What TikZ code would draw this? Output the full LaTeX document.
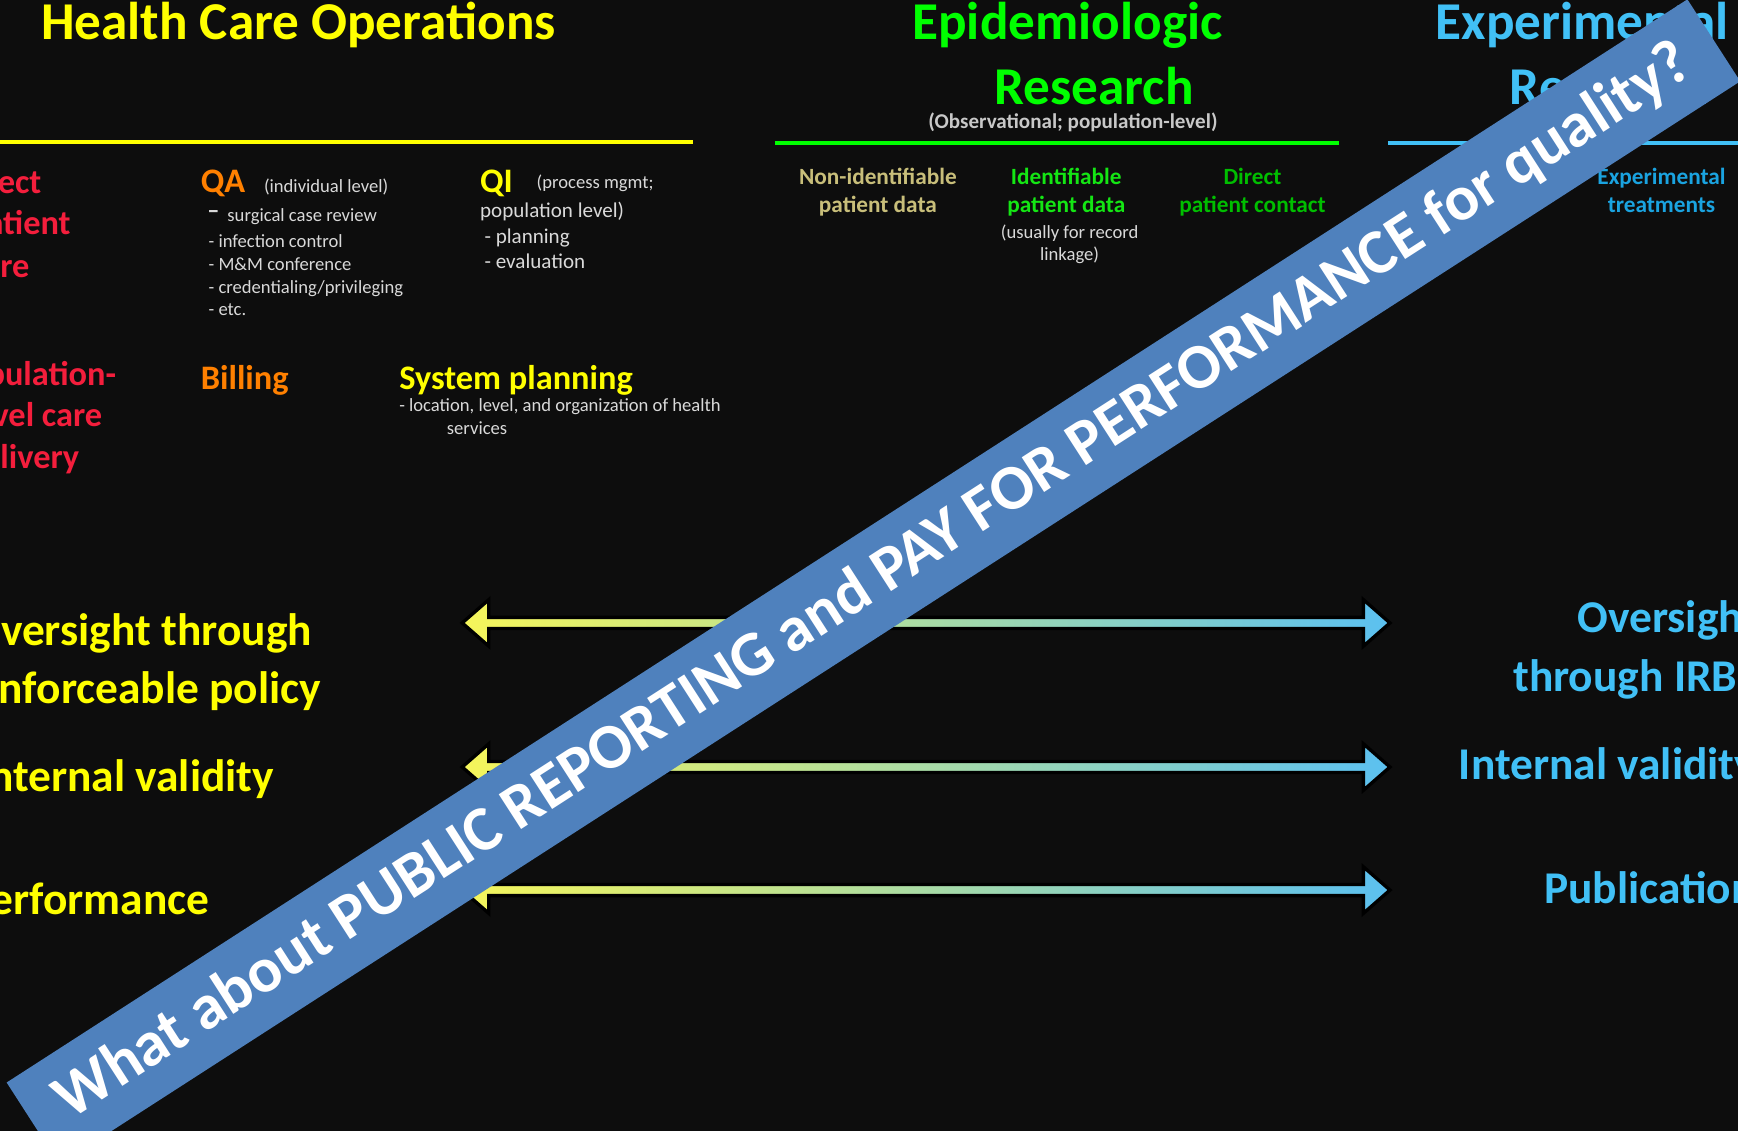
\documentclass[tikz,border=0pt]{standalone}
\usepackage{fontspec}
\setmainfont{Carlito}
\usepackage{tikz}
\usetikzlibrary{calc}
\definecolor{bgblack}{HTML}{0D0D0D}
\definecolor{hcoyellow}{HTML}{FFFF00}
\definecolor{epigreen}{HTML}{00FF00}
\definecolor{expblue}{HTML}{41C0F6}
\definecolor{redtxt}{HTML}{F41E3C}
\definecolor{qaorange}{HTML}{FF8000}
\definecolor{notegrey}{HTML}{D9D9D9}
\definecolor{obsgrey}{HTML}{C8C8C8}
\definecolor{khaki}{HTML}{C8BE7A}
\definecolor{idgreen}{HTML}{14E614}
\definecolor{contactgreen}{HTML}{00BE00}
\definecolor{treatblue}{HTML}{1AA3E0}
\definecolor{bannerblue}{HTML}{4F81BD}
\definecolor{arrowyellow}{HTML}{F5F55A}
\definecolor{arrowmid}{HTML}{C4E4AE}
\definecolor{arrowblue}{HTML}{5BC0F0}
\tikzstyle{txt}=[inner sep=0pt, anchor=base west]
\tikzstyle{title}=[txt, font=\fontsize{48}{58}\selectfont\bfseries]
\tikzstyle{big}=[txt, font=\fontsize{31}{37}\selectfont\bfseries]
\tikzstyle{colhdr}=[inner sep=0pt, anchor=base, font=\fontsize{21}{25}\selectfont\bfseries]
\tikzstyle{note}=[txt, text=notegrey, font=\fontsize{16.8}{20}\selectfont]
\tikzstyle{qinote}=[txt, text=notegrey, font=\fontsize{19}{23}\selectfont]
\tikzstyle{low}=[txt, font=\fontsize{41}{49}\selectfont\bfseries]
\tikzstyle{banner}=[fill=bannerblue, text=white, minimum width=1804pt, minimum height=88pt, inner sep=0pt, font=\fontsize{57.5}{69}\selectfont\bfseries]
\tikzstyle{dblshade}=[draw=black, line width=3pt, line join=miter, left color=arrowyellow, middle color=arrowmid, right color=arrowblue]
% double headed block arrow between two named coordinates
\newcommand\dblarrow[2]{\shadedraw[dblshade] (#1) -- ++(24,-21) -- ++(0,16) -- ($(#2)+(-24,-5)$) -- ++(0,-16) -- (#2) -- ++(-24,21) -- ++(0,-16) -- ($(#1)+(24,5)$) -- ++(0,16) -- cycle;}

\begin{document}
\begin{tikzpicture}[x=1pt,y=-1pt]
\useasboundingbox[fill=bgblack] (0,0) rectangle (1568,1020);

% column titles
\node[title, text=hcoyellow] (T-hco) at (37,36) {Health Care Operations};
\node[title, text=epigreen, anchor=base] (T-epi1) at (963,36) {Epidemiologic};
\node[title, text=epigreen, anchor=base] (T-epi2) at (987,94) {Research};
\node[inner sep=0pt, anchor=base, text=obsgrey, font=\fontsize{19}{23}\selectfont\bfseries] (T-obs) at (968,116) {(Observational; population-level)};
\node[title, text=expblue] (T-exp1) at (1295,36) {Experimental};
\node[title, text=expblue] (T-exp2) at (1362,94) {Research};

\draw[hcoyellow, line width=4pt] (0,128) -- (625,128);
\draw[epigreen, line width=4pt] (699,129) -- (1208,129);
\draw[expblue, line width=4pt] (1252,129) -- (1568,129);

% health care operations
\foreach \i/\x/\y/\t in {1/-40/175/Direct, 2/-29/212/patient, 3/-28/250/care, 4/-45/348/Population-, 5/-30/385/level care, 6/-32/423/delivery}
  \node[big, text=redtxt] (dpc-\i) at (\x,\y) {\t};

\node[big, text=qaorange] (QA) at (181,174) {QA};
\node[note] (QA-0) at (238,174) {(individual level)};
\node[txt, text=notegrey, font=\fontsize{22}{26}\selectfont\bfseries] (QA-dash) at (187,197) {\textendash};
\node[note] (QA-1) at (205,200) {surgical case review};
\foreach \i/\y/\t in {2/223/infection control, 3/244/M\&M conference, 4/265/{credentialing/privileging}, 5/285/etc.}
  \node[note] (QA-\i) at (188,\y) {- \t};

\node[big, text=hcoyellow] (QI) at (433,174) {QI};
\node[note] (QI-0) at (484,170) {(process mgmt;};
\node[qinote] (QI-1) at (433,196) {population level)};
\node[qinote] (QI-2) at (437,220) {- planning};
\node[qinote] (QI-3) at (437,242) {- evaluation};

\node[big, text=qaorange] (bill) at (181,351) {Billing};
\node[big, text=hcoyellow] (sysp) at (360,351) {System planning};
\node[note] (sysp-1) at (360,371) {- location, level, and organization of health};
\node[note] (sysp-2) at (403,392) {services};

% research columns
\foreach \n/\x/\c/\a/\b in {ni/792/khaki/Non-identifiable/patient data, id/962/idgreen/Identifiable/patient data, dc/1130/contactgreen/Direct/patient contact, et/1499/treatblue/Experimental/treatments}{
  \node[colhdr, text=\c] (\n-1) at (\x,166) {\a};
  \node[colhdr, text=\c] (\n-2) at (\x,192) {\b};
}
\node[note, anchor=base] (id-3) at (965,215) {(usually for record};
\node[note, anchor=base] (id-4) at (965,235) {linkage)};

% oversight / validity / output
\node[low, text=hcoyellow] (ov-1) at (-27,582) {Oversight through};
\node[low, text=hcoyellow] (ov-2) at (-22,635) {enforceable policy};
\node[low, text=hcoyellow] (iv-1) at (-21,714) {Internal validity};
\node[low, text=hcoyellow] (pf-1) at (-30,825) {Performance};

\node[low, text=expblue] (irb-1) at (1423,571) {Oversight};
\node[low, text=expblue] (irb-2) at (1365,624) {through IRB};
\node[low, text=expblue] (iv-2) at (1316,703) {Internal validity};
\node[low, text=expblue] (pub) at (1393,815) {Publication};

\foreach \i/\y in {1/562, 2/692, 3/803}{
  \coordinate (L-\i) at (417,\y);
  \coordinate (R-\i) at (1254,\y);
  \dblarrow{L-\i}{R-\i}
}

% banner
\node[banner, rotate=32.8] (ban) at (788,525) {What about PUBLIC REPORTING and PAY FOR PERFORMANCE for quality?};
\end{tikzpicture}
\end{document}
